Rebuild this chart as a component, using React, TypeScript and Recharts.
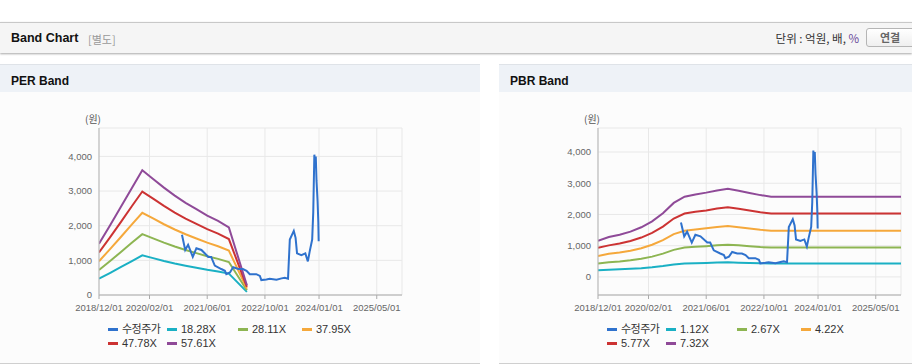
import { LineChart, Line, XAxis, YAxis, CartesianGrid } from 'recharts'

// x 값은 2018/12/01 기준 개월 수
const tickMonths = [0, 14, 30, 46, 61, 77]
const tickLabels = ['2018/12/01', '2020/02/01', '2021/06/01', '2022/10/01', '2024/01/01', '2025/05/01']
const yTicks = [0, 1000, 2000, 3000, 4000]

// 수정주가
const priceMonths = [
  23.0, 23.9, 24.7, 26.0, 27.0, 28.4, 30.3, 31.1, 32.1, 33.9, 34.9, 35.3, 36.3, 37.2, 38.6, 39.9, 40.9,
  41.8, 43.6, 44.6, 45.0, 46.4, 47.3, 49.2, 50.6, 51.5, 52.4, 52.9, 54.0, 54.5, 54.9, 56.1, 57.2, 57.9,
  58.4, 59.1, 59.4, 59.7, 60.0, 60.1, 60.3, 60.6, 60.8, 60.9,
]
const priceValues = [
  1740, 1300, 1450, 1100, 1350, 1300, 1100, 1100, 850, 750, 700, 600, 650, 800, 750, 750, 700,
  600, 600, 550, 430, 450, 470, 440, 480, 500, 470, 1600, 1850, 1650, 1200, 1150, 1200, 970,
  1250, 1600, 2400, 4050, 3700, 4000, 3300, 2700, 2100, 1550,
]

// PER 밴드
const perMonths = [0, 3, 6, 9, 12, 15, 18, 21, 24, 27, 30, 33, 36, 41]
const per1828 = [470, 634, 802, 974, 1143, 1064, 983, 910, 845, 786, 728, 678, 618, 89]
const per2811 = [722, 975, 1234, 1498, 1757, 1636, 1512, 1400, 1299, 1209, 1119, 1043, 950, 137]
const per3795 = [975, 1317, 1666, 2023, 2372, 2209, 2042, 1890, 1753, 1632, 1510, 1408, 1283, 184]
const per4778 = [1228, 1658, 2098, 2547, 2986, 2781, 2571, 2379, 2207, 2055, 1902, 1773, 1615, 232]
const per5761 = [1480, 2000, 2530, 3070, 3600, 3350, 3100, 2870, 2660, 2480, 2290, 2140, 1950, 280]

// PBR 밴드
const pbrMonths = [0, 3, 6, 9, 12, 15, 18, 21, 24, 27, 30, 33, 36, 39, 42, 45, 48, 84]
const pbr112 = [212, 231, 242, 257, 278, 307, 347, 398, 428, 439, 448, 459, 466, 457, 447, 436, 428, 428]
const pbr267 = [425, 470, 495, 530, 580, 650, 745, 865, 940, 965, 985, 1010, 1030, 1010, 980, 955, 940, 940]
const pbr422 = [670, 740, 780, 840, 920, 1030, 1180, 1370, 1480, 1520, 1560, 1600, 1630, 1590, 1550, 1510, 1480, 1480]
const pbr577 = [930, 1010, 1070, 1150, 1260, 1410, 1610, 1870, 2030, 2090, 2130, 2190, 2230, 2180, 2130, 2070, 2030, 2030]
const pbr732 = [1160, 1280, 1350, 1450, 1590, 1780, 2040, 2370, 2570, 2640, 2700, 2770, 2820, 2760, 2690, 2620, 2570, 2570]

const C_PRICE = '#2f72cd'
const C_1 = '#1ab0c4'
const C_2 = '#8db552'
const C_3 = '#f5a83b'
const C_4 = '#cc3333'
const C_5 = '#8f4a98'

const FONT = '"Liberation Sans", Arial, "Noto Sans CJK KR", sans-serif'
const KFONT = '"Noto Sans CJK KR", "Liberation Sans", sans-serif'

interface Series {
  name: string
  color: string
  data: { m: number; v: number }[]
}

const toPoints = (ms: number[], vs: number[]) => ms.map((m, i) => ({ m, v: vs[i] }))

const price: Series = { name: '수정주가', color: C_PRICE, data: toPoints(priceMonths, priceValues) }

const perSeries: Series[] = [
  price,
  { name: '18.28X', color: C_1, data: toPoints(perMonths, per1828) },
  { name: '28.11X', color: C_2, data: toPoints(perMonths, per2811) },
  { name: '37.95X', color: C_3, data: toPoints(perMonths, per3795) },
  { name: '47.78X', color: C_4, data: toPoints(perMonths, per4778) },
  { name: '57.61X', color: C_5, data: toPoints(perMonths, per5761) },
]

const pbrSeries: Series[] = [
  price,
  { name: '1.12X', color: C_1, data: toPoints(pbrMonths, pbr112) },
  { name: '2.67X', color: C_2, data: toPoints(pbrMonths, pbr267) },
  { name: '4.22X', color: C_3, data: toPoints(pbrMonths, pbr422) },
  { name: '5.77X', color: C_4, data: toPoints(pbrMonths, pbr577) },
  { name: '7.32X', color: C_5, data: toPoints(pbrMonths, pbr732) },
]

const fmtTick = (v: number) => {
  const i = tickMonths.indexOf(v)
  return i >= 0 ? tickLabels[i] : ''
}
const fmtY = (v: number) => v.toLocaleString('en-US')

const legendCols = [108, 167, 238, 302]

function BandPanel({
  title,
  left,
  width,
  series,
  yDomain,
}: {
  title: string
  left: number
  width: number
  series: Series[]
  yDomain: [number, number]
}) {
  // 밴드 먼저, 주가는 맨 위에
  const drawOrder = [...series.slice(1), series[0]]
  return (
    <div
      style={{
        position: 'absolute',
        left,
        top: 64,
        width,
        height: 298,
        background: '#fcfcfc',
        borderTop: '1px solid #dfe3e8',
        borderBottom: '1px solid #cfcfcf',
      }}
    >
      <div
        style={{
          height: 27,
          background: '#eef2f7',
          fontFamily: FONT,
          fontWeight: 'bold',
          fontSize: 12,
          color: '#111',
          lineHeight: '32px',
          paddingLeft: 11,
        }}
      >
        {title}
      </div>
      <div
        style={{
          position: 'absolute',
          left: 85,
          top: 46,
          fontFamily: KFONT,
          fontSize: 10,
          color: '#555',
        }}
      >
        (원)
      </div>
      <div style={{ position: 'absolute', left: 0, top: 35 }}>
        <LineChart width={420} height={225} margin={{ top: 28, right: 18, bottom: 0, left: 49 }}>
          <CartesianGrid stroke="#e8e8e8" vertical horizontal />
          <XAxis
            xAxisId={0}
            type="number"
            dataKey="m"
            domain={[0, 84]}
            ticks={tickMonths}
            tickFormatter={fmtTick}
            interval={0}
            height={30}
            tickSize={4}
            tickMargin={5}
            tick={{ fontSize: 9.5, fill: '#666', fontFamily: FONT }}
            stroke="#aaa"
            allowDataOverflow
          />
          <XAxis
            xAxisId="top"
            orientation="top"
            type="number"
            domain={[0, 84]}
            height={0}
            tick={false}
            tickLine={false}
            stroke="#b5b5b5"
          />
          <YAxis
            yAxisId={0}
            type="number"
            domain={yDomain}
            ticks={yTicks}
            tickFormatter={fmtY}
            width={50}
            tickLine={false}
            tickMargin={1}
            tick={{ fontSize: 9.5, fill: '#666', fontFamily: FONT }}
            stroke="#b5b5b5"
            allowDataOverflow
          />
          <YAxis
            yAxisId="right"
            orientation="right"
            domain={yDomain}
            width={0}
            tick={false}
            tickLine={false}
            stroke="#b5b5b5"
          />
          {drawOrder.map((s) => (
            <Line
              key={s.name}
              xAxisId={0}
              yAxisId={0}
              data={s.data}
              dataKey="v"
              name={s.name}
              type="linear"
              stroke={s.color}
              strokeWidth={2}
              dot={false}
              activeDot={false}
              isAnimationActive={false}
            />
          ))}
        </LineChart>
      </div>
      {series.map((s, i) => {
        const col = legendCols[i % 4]
        const row = Math.floor(i / 4)
        return (
          <div
            key={s.name}
            style={{
              position: 'absolute',
              left: col,
              top: 258 + row * 14,
              height: 13,
              lineHeight: '13px',
              display: 'flex',
              alignItems: 'center',
              whiteSpace: 'nowrap',
              fontFamily: FONT,
              fontSize: 11,
              color: '#333',
            }}
          >
            <span style={{ display: 'inline-block', width: 10, height: 3, background: s.color, marginRight: 4 }} />
            <span style={{ lineHeight: '13px', letterSpacing: i === 0 ? -0.5 : 0 }}>{s.name}</span>
          </div>
        )
      })}
    </div>
  )
}

export default function App() {
  return (
    <div
      style={{
        position: 'fixed',
        left: 0,
        top: 0,
        width: 912,
        height: 364,
        background: '#fff',
        overflow: 'hidden',
      }}
    >
      <div
        style={{
          position: 'absolute',
          left: 0,
          top: 22,
          width: 912,
          height: 30,
          background: '#f5f5f5',
          borderTop: '1px solid #c8c8c8',
          boxShadow: '0 1px 2px rgba(0,0,0,0.35)',
        }}
      >
        <span
          style={{
            position: 'absolute',
            left: 11,
            top: 8,
            fontFamily: FONT,
            fontWeight: 'bold',
            fontSize: 12.5,
            color: '#111',
          }}
        >
          Band Chart
        </span>
        <span
          style={{ position: 'absolute', left: 88, top: 8, fontFamily: KFONT, fontSize: 11, color: '#999' }}
        >
          [별도]
        </span>
        <span
          style={{
            position: 'absolute',
            right: 53,
            top: 7,
            fontFamily: KFONT,
            fontSize: 11.5,
            color: '#333',
          }}
        >
          단위 : 억원, 배, <span style={{ color: '#6a4a9a' }}>%</span>
        </span>
        <div
          style={{
            position: 'absolute',
            left: 866,
            top: 5,
            width: 50,
            height: 17,
            border: '1px solid #b5b5b5',
            borderRadius: 3,
            background: 'linear-gradient(#ffffff, #efefef)',
            fontFamily: KFONT,
            fontSize: 11,
            fontWeight: 'bold',
            color: '#666',
            lineHeight: '17px',
            paddingLeft: 13,
            boxSizing: 'content-box',
          }}
        >
          연결
        </div>
      </div>
      <BandPanel title="PER Band" left={0} width={480} series={perSeries} yDomain={[0, 4820]} />
      <BandPanel title="PBR Band" left={499} width={413} series={pbrSeries} yDomain={[-580, 4770]} />
    </div>
  )
}
